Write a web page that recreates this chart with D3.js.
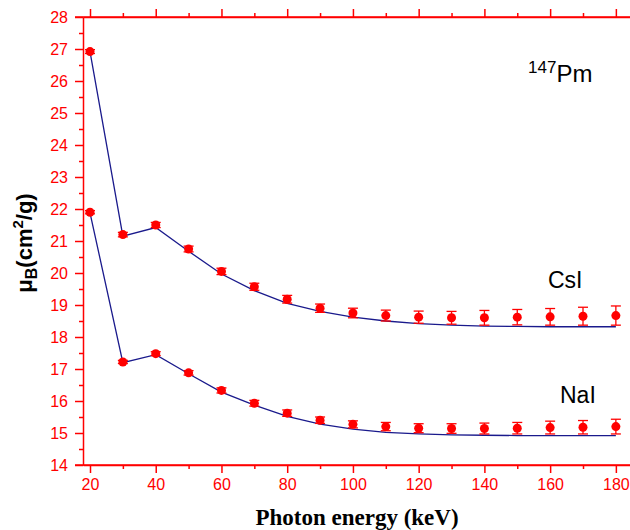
<!DOCTYPE html>
<html>
<head>
<meta charset="utf-8">
<script src="https://cdn.jsdelivr.net/npm/d3@7"></script>
<style>
  body { margin: 0; background: #fff; }
  .axis text { font-family: "Liberation Sans", Arial, sans-serif; font-size: 16px; fill: #ff0000; }
  .axis path, .axis line { stroke: #ff0000; stroke-width: 1.5; }
</style>
</head>
<body>
<svg id="chart" width="630" height="530"></svg>
<script>
// photon energies (keV)
const energies = [20, 30, 40, 50, 60, 70, 80, 90, 100, 110, 120, 130, 140, 150, 160, 170, 180]

// measured values, CsI
const csiValues = [26.92, 21.2, 21.5, 20.75, 20.05, 19.57, 19.18, 18.9, 18.75, 18.67, 18.62, 18.6, 18.6, 18.62, 18.63, 18.65, 18.67]
const csiErrors = [0.06, 0.07, 0.08, 0.09, 0.1, 0.11, 0.12, 0.13, 0.15, 0.17, 0.19, 0.2, 0.23, 0.24, 0.26, 0.28, 0.3]
const csiFit = [26.92, 21.15, 21.42, 20.68, 19.97, 19.45, 19.05, 18.8, 18.62, 18.5, 18.42, 18.37, 18.34, 18.33, 18.32, 18.32, 18.32]

// measured values, NaI
const naiValues = [21.9, 17.22, 17.48, 16.88, 16.33, 15.93, 15.62, 15.4, 15.27, 15.2, 15.15, 15.14, 15.14, 15.15, 15.17, 15.18, 15.2]
const naiErrors = [0.05, 0.05, 0.06, 0.07, 0.08, 0.09, 0.1, 0.1, 0.11, 0.13, 0.14, 0.15, 0.17, 0.18, 0.2, 0.21, 0.23]
const naiFit = [21.88, 17.2, 17.45, 16.85, 16.28, 15.87, 15.52, 15.28, 15.12, 15.02, 14.97, 14.94, 14.93, 14.92, 14.92, 14.92, 14.92]

const xTicks = [20, 40, 60, 80, 100, 120, 140, 160, 180]
const xMinorTicks = [30, 50, 70, 90, 110, 130, 150, 170]
const yTicks = [14, 15, 16, 17, 18, 19, 20, 21, 22, 23, 24, 25, 26, 27, 28]
const yMinorTicks = yTicks.slice(0, -1).map(d => d + 0.5)

const svg = d3.select("#chart")

const x = d3.scaleLinear().domain([17.87, 184.3]).range([83, 630])
const y = d3.scaleLinear().domain([14, 28]).range([465, 17])

// axes
const gBottom = svg.append("g").attr("class", "axis").attr("transform", "translate(0," + y(14) + ")")
gBottom.call(d3.axisBottom(x).tickValues(xTicks).tickSize(8).tickSizeOuter(0).tickPadding(6))
gBottom.append("g").call(d3.axisBottom(x).tickValues(xMinorTicks).tickSize(4).tickFormat(""))
    .call(g => g.select(".domain").remove())

const gTop = svg.append("g").attr("class", "axis").attr("transform", "translate(0," + y(28) + ")")
gTop.call(d3.axisTop(x).tickValues(xTicks).tickSize(8).tickSizeOuter(0).tickFormat(""))
gTop.append("g").call(d3.axisTop(x).tickValues(xMinorTicks).tickSize(4).tickFormat(""))
    .call(g => g.select(".domain").remove())

const gLeft = svg.append("g").attr("class", "axis").attr("transform", "translate(" + x.range()[0] + ",0)")
gLeft.call(d3.axisLeft(y).tickValues(yTicks).tickSize(8).tickSizeOuter(0).tickPadding(7))
gLeft.append("g").call(d3.axisLeft(y).tickValues(yMinorTicks).tickSize(4).tickFormat(""))
    .call(g => g.select(".domain").remove())

// extend horizontal axis lines under the left ticks
svg.append("line").attr("x1", 75).attr("x2", 630).attr("y1", y(14)).attr("y2", y(14))
    .attr("stroke", "#ff0000").attr("stroke-width", 1.5)
svg.append("line").attr("x1", 75).attr("x2", 630).attr("y1", y(28)).attr("y2", y(28))
    .attr("stroke", "#ff0000").attr("stroke-width", 1.5)

const line = d3.line().x(d => x(d[0])).y(d => y(d[1]))

const series = [
    { values: csiValues, errors: csiErrors, fit: csiFit },
    { values: naiValues, errors: naiErrors, fit: naiFit },
]

series.forEach(s => {
    svg.append("path")
        .datum(energies.map((e, i) => [e, s.fit[i]]))
        .attr("d", line)
        .attr("fill", "none")
        .attr("stroke", "#1a1a8c")
        .attr("stroke-width", 1.3)

    const pts = energies.map((e, i) => ({ e, v: s.values[i], err: s.errors[i] }))
    const g = svg.append("g")
    const eb = g.selectAll(".err").data(pts).enter().append("g").attr("class", "err")
        .attr("stroke", "#ff0000").attr("stroke-width", 1.3)
    eb.append("line")
        .attr("x1", d => x(d.e)).attr("x2", d => x(d.e))
        .attr("y1", d => y(d.v + d.err)).attr("y2", d => y(d.v - d.err))
    eb.append("line")
        .attr("x1", d => x(d.e) - 5).attr("x2", d => x(d.e) + 5)
        .attr("y1", d => y(d.v + d.err)).attr("y2", d => y(d.v + d.err))
    eb.append("line")
        .attr("x1", d => x(d.e) - 5).attr("x2", d => x(d.e) + 5)
        .attr("y1", d => y(d.v - d.err)).attr("y2", d => y(d.v - d.err))
    g.selectAll("circle").data(pts).enter().append("circle")
        .attr("cx", d => x(d.e)).attr("cy", d => y(d.v))
        .attr("r", 4.5).attr("fill", "#ff0000")
})

// labels
const label = svg.append("g").attr("font-family", "'Liberation Sans', Arial, sans-serif").attr("fill", "#000")
const pm = label.append("text").attr("x", 528).attr("y", 82).attr("font-size", 24)
pm.append("tspan").attr("font-size", 17).attr("dy", -9).text("147")
pm.append("tspan").attr("dy", 9).text("Pm")
label.append("text").attr("x", 548).attr("y", 288).attr("font-size", 23).text("CsI")
label.append("text").attr("x", 560).attr("y", 403).attr("font-size", 23).text("NaI")

const yl = svg.append("text")
    .attr("transform", "translate(32,243) rotate(-90)")
    .attr("text-anchor", "middle")
    .attr("font-family", "'Liberation Sans', Arial, sans-serif")
    .attr("font-weight", "bold")
    .attr("font-size", 22)
yl.append("tspan").text("μ")
yl.append("tspan").attr("font-size", 16).attr("dy", 5).text("B")
yl.append("tspan").attr("dy", -5).text("(cm")
yl.append("tspan").attr("font-size", 15).attr("dy", -9).text("2")
yl.append("tspan").attr("dy", 9).text("/g)")

svg.append("text")
    .attr("x", 357).attr("y", 525)
    .attr("text-anchor", "middle")
    .attr("font-family", "'Liberation Serif', 'Times New Roman', serif")
    .attr("font-weight", "bold")
    .attr("font-size", 23)
    .text("Photon energy (keV)")
</script>
</body>
</html>
